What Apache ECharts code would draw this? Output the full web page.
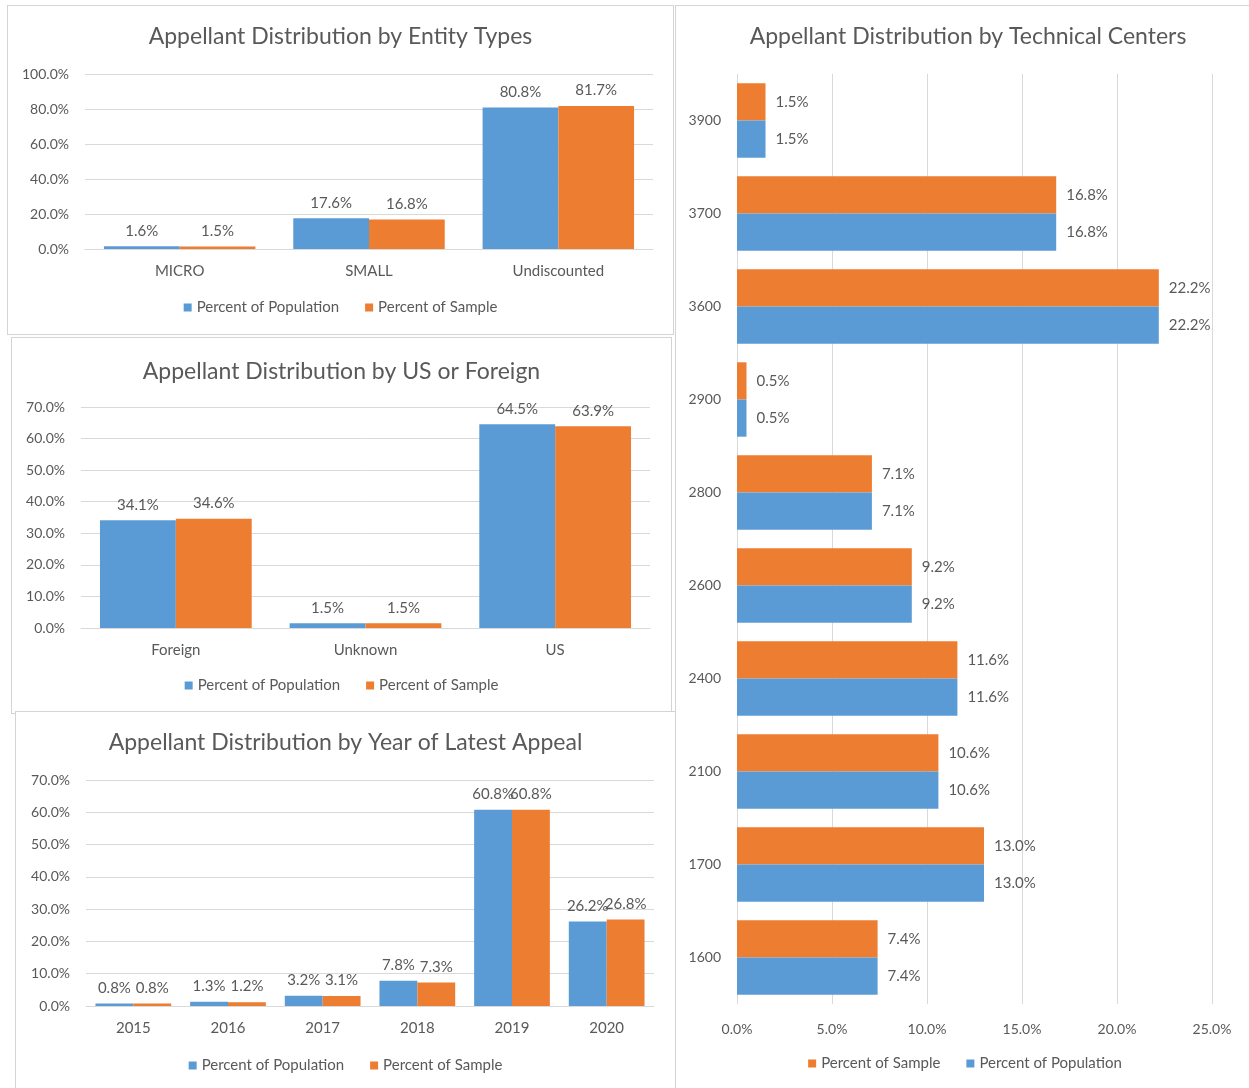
<!DOCTYPE html>
<html lang="en">
<head>
  <meta charset="UTF-8">
  <title>Appellant Distribution</title>
  <style>
    html, body { margin: 0; width: 100%; height: 100%; background: #fff; }
    .panel { position: absolute; border: 1px solid #d4d4d4; box-sizing: border-box; background: #fff; }
  </style>
</head>
<body>
  <div id="entity" class="panel" style="left:7px;top:5px;width:667px;height:330px"></div>
  <div id="origin" class="panel" style="left:11px;top:337px;width:661px;height:377px"></div>
  <div id="year" class="panel" style="left:15px;top:711px;width:661px;height:380px"></div>
  <div id="center" class="panel" style="left:675px;top:5px;width:580px;height:1090px"></div>
  <script src="https://cdn.jsdelivr.net/npm/echarts@6/dist/echarts.min.js"></script>
  <script>
    var POP = 'Percent of Population';
    var SAMPLE = 'Percent of Sample';
    var BLUE = '#5B9BD5';
    var ORANGE = '#ED7D31';
    var TXT = '#595959';
    var FONT = 'Lato';

    var entityCats = ['MICRO', 'SMALL', 'Undiscounted'];
    var entityPop = [1.6, 17.6, 80.8];
    var entitySample = [1.5, 16.8, 81.7];

    var originCats = ['Foreign', 'Unknown', 'US'];
    var originPop = [34.1, 1.5, 64.5];
    var originSample = [34.6, 1.5, 63.9];

    var yearCats = ['2015', '2016', '2017', '2018', '2019', '2020'];
    var yearPop = [0.8, 1.3, 3.2, 7.8, 60.8, 26.2];
    var yearSample = [0.8, 1.2, 3.1, 7.3, 60.8, 26.8];

    var centerCats = ['1600', '1700', '2100', '2400', '2600', '2800', '2900', '3600', '3700', '3900'];
    var centerPop = [7.4, 13.0, 10.6, 11.6, 9.2, 7.1, 0.5, 22.2, 16.8, 1.5];
    var centerSample = [7.4, 13.0, 10.6, 11.6, 9.2, 7.1, 0.5, 22.2, 16.8, 1.5];

    function pct(v) { return (typeof v === 'object' ? v.value : v).toFixed(1) + '%'; }

    function columnChart(id, title, cats, pop, sample, max, grid, titleTop, legendBottom) {
      var chart = echarts.init(document.getElementById(id));
      var lbl = { show: true, position: 'top', distance: 8, color: TXT, fontSize: 15, fontFamily: FONT, formatter: function (p) { return pct(p.value); } };
      chart.setOption({
        animation: false,
        textStyle: { fontFamily: FONT },
        title: { text: title, left: 'center', top: titleTop, textStyle: { color: TXT, fontSize: 23, fontWeight: 'normal', fontFamily: FONT } },
        legend: {
          bottom: legendBottom, left: 'center', itemWidth: 8, itemHeight: 8, itemGap: 26, icon: 'rect',
          textStyle: { color: TXT, fontSize: 15, fontFamily: FONT }, data: [POP, SAMPLE]
        },
        grid: grid,
        xAxis: {
          type: 'category', data: cats,
          axisLine: { lineStyle: { color: '#D9D9D9' } }, axisTick: { show: false },
          axisLabel: { color: TXT, fontSize: 15, margin: 15, fontFamily: FONT }
        },
        yAxis: {
          type: 'value', min: 0, max: max, interval: max === 100 ? 20 : 10,
          axisLabel: { color: TXT, fontSize: 14, margin: 16, fontFamily: FONT, formatter: function (v) { return v.toFixed(1) + '%'; } },
          splitLine: { lineStyle: { color: '#D9D9D9' } }
        },
        series: [
          { name: POP, type: 'bar', data: pop, itemStyle: { color: BLUE }, barGap: '0%', barCategoryGap: '20%', label: lbl },
          { name: SAMPLE, type: 'bar', data: sample, itemStyle: { color: ORANGE }, barGap: '0%', barCategoryGap: '20%', label: lbl }
        ]
      });
    }

    columnChart('entity', 'Appellant Distribution by Entity Types', entityCats, entityPop, entitySample, 100,
      { left: 77, right: 20, top: 68, bottom: 85 }, 14, 14);
    columnChart('origin', 'Appellant Distribution by US or Foreign', originCats, originPop, originSample, 70,
      { left: 69, right: 21, top: 69, bottom: 85 }, 17, 15);
    columnChart('year', 'Appellant Distribution by Year of Latest Appeal', yearCats, yearPop, yearSample, 70,
      { left: 70, right: 21, top: 68, bottom: 84 }, 14, 12);

    // horizontal bars, technical centers; sample first so it sits on top in each band
    var hChart = echarts.init(document.getElementById('center'));
    var hLbl = { show: true, position: 'right', distance: 10, color: TXT, fontSize: 15, fontFamily: FONT, formatter: function (p) { return pct(p.value); } };
    hChart.setOption({
      animation: false,
      textStyle: { fontFamily: FONT },
      title: { text: 'Appellant Distribution by Technical Centers', left: 287, textAlign: 'center', top: 14, textStyle: { color: TXT, fontSize: 23, fontWeight: 'normal', fontFamily: FONT } },
      legend: {
        bottom: 18, left: 'center', itemWidth: 8, itemHeight: 8, itemGap: 26, icon: 'rect',
        textStyle: { color: TXT, fontSize: 15, fontFamily: FONT }, data: [SAMPLE, POP]
      },
      grid: { left: 61, right: 42, top: 68, bottom: 90 },
      yAxis: {
        type: 'category', data: centerCats,
        axisLine: { show: false }, axisTick: { show: false },
        axisLabel: { color: TXT, fontSize: 14, margin: 16, fontFamily: FONT }
      },
      xAxis: {
        type: 'value', min: 0, max: 25, interval: 5,
        axisLabel: { color: TXT, fontSize: 14, margin: 18, fontFamily: FONT, formatter: function (v) { return v.toFixed(1) + '%'; } },
        splitLine: { lineStyle: { color: '#D9D9D9' } }
      },
      series: [
        { name: SAMPLE, type: 'bar', data: centerSample, itemStyle: { color: ORANGE }, barGap: '0%', barCategoryGap: '20%', label: hLbl },
        { name: POP, type: 'bar', data: centerPop, itemStyle: { color: BLUE }, barGap: '0%', barCategoryGap: '20%', label: hLbl }
      ]
    });
  </script>
</body>
</html>
